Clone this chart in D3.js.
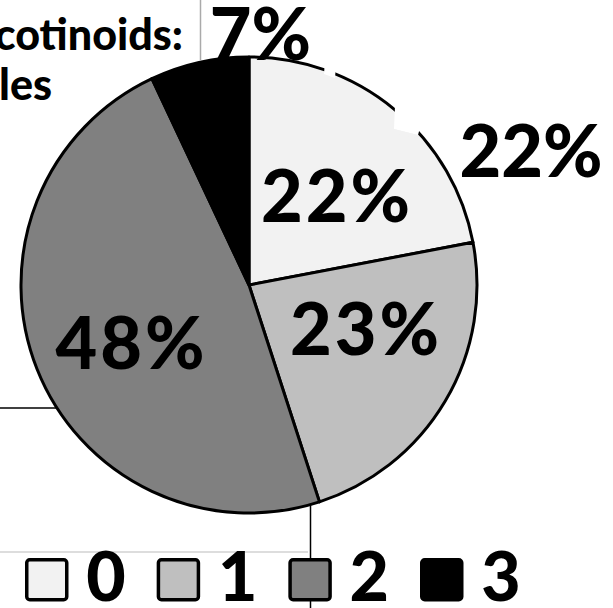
<!DOCTYPE html>
<html><head><meta charset="utf-8">
<script src="https://cdn.jsdelivr.net/npm/d3@7"></script>
<style>html,body{margin:0;padding:0;background:#fff;overflow:hidden}</style>
</head><body>
<script>
const categories = ["0", "1", "2", "3"];
const values = [22, 23, 48, 7];
const labels = ["22%", "23%", "48%", "7%"];
const colors = ["#f2f2f2", "#bfbfbf", "#808080", "#000000"];
const titleLines = ["cotinoids:", "les"];
const extraLabel = "22%";

const W = 613, H = 608;
const FONT = "Lato, 'Noto Sans', sans-serif";
const svg = d3.select("body").append("svg").attr("width", W).attr("height", H);

// background lines from the surrounding layout
svg.append("line").attr("x1", 200.5).attr("x2", 200.5).attr("y1", 0).attr("y2", 60)
  .attr("stroke", "#aaa").attr("stroke-width", 1.5);
svg.append("line").attr("x1", 0).attr("x2", 60).attr("y1", 408).attr("y2", 408)
  .attr("stroke", "#000").attr("stroke-width", 1.5);
svg.append("line").attr("x1", 310.5).attr("x2", 310.5).attr("y1", 500).attr("y2", 608)
  .attr("stroke", "#000").attr("stroke-width", 1.5);
svg.append("line").attr("x1", 0).attr("x2", 308).attr("y1", 552).attr("y2", 552)
  .attr("stroke", "#ddd").attr("stroke-width", 2);

// title fragments
const title = svg.append("text").attr("font-family", FONT).attr("font-weight", 900)
  .attr("font-size", 43).attr("text-anchor", "end");
title.append("tspan").attr("x", 183).attr("y", 50).text(titleLines[0]);
title.append("tspan").attr("x", 52).attr("y", 100).text(titleLines[1]);

// pie
const cx = 249, cy = 285, R = 228;
const pie = d3.pie().sort(null).value(d => d);
const arcs = pie(values);
const arc = d3.arc().innerRadius(0).outerRadius(R);
const g = svg.append("g").attr("transform", `translate(${cx},${cy})`);
g.selectAll("path").data(arcs).join("path")
  .attr("d", arc).attr("fill", (d, i) => colors[i])
  .attr("stroke", "#000").attr("stroke-width", 3).attr("stroke-linejoin", "round");

// white breaks in the outline (collage artefacts)
svg.append("polygon").attr("points", "325,60 336,64 335,78 324,74").attr("fill", "#fff");
svg.append("polygon").attr("points", "395,106 421,124 418,135 394,129").attr("fill", "#fff");
svg.append("polygon").attr("points", "394,129 418,135 416,138 395,133").attr("fill", "#f2f2f2");

// labels
const labelArc = d3.arc().innerRadius(R * 0.55).outerRadius(R * 0.55);
const nudges = [[8, 34], [9, 6], [-1, 38]];
g.selectAll("text.lab").data(arcs.slice(0, 3)).join("text")
  .attr("class", "lab")
  .attr("font-family", FONT).attr("font-weight", 900).attr("font-size", 72)
  .attr("letter-spacing", 3)
  .attr("text-anchor", "middle").attr("fill", "#000")
  .attr("x", (d, i) => labelArc.centroid(d)[0] + nudges[i][0])
  .attr("y", (d, i) => labelArc.centroid(d)[1] + nudges[i][1])
  .text((d, i) => labels[i]);

// outside labels
const outerArc = d3.arc().innerRadius(R * 1.1).outerRadius(R * 1.1);
const c3 = outerArc.centroid(arcs[3]);
g.append("text").attr("font-family", FONT).attr("font-weight", 900).attr("font-size", 72)
  .attr("text-anchor", "middle").attr("x", c3[0] + 66).attr("y", c3[1] + 20)
  .text(labels[3]);
svg.append("text").attr("font-family", FONT).attr("font-weight", 900).attr("font-size", 72)
  .attr("text-anchor", "middle").attr("x", 531).attr("y", 177)
  .text(extraLabel);

// legend
const lx = d3.scalePoint().domain(categories).range([25, 420]);
const leg = svg.append("g").selectAll("g").data(categories).join("g")
  .attr("transform", d => `translate(${lx(d)},558)`);
leg.append("rect").attr("x", 1.75).attr("y", 1.75).attr("width", 40).attr("height", 40)
  .attr("rx", 3).attr("fill", (d, i) => colors[i]).attr("stroke", "#000").attr("stroke-width", 3.5);
leg.append("text").attr("x", 81).attr("y", 43).attr("text-anchor", "middle")
  .attr("font-family", FONT).attr("font-weight", 900).attr("font-size", 68)
  .text(d => d);
</script>
</body></html>
